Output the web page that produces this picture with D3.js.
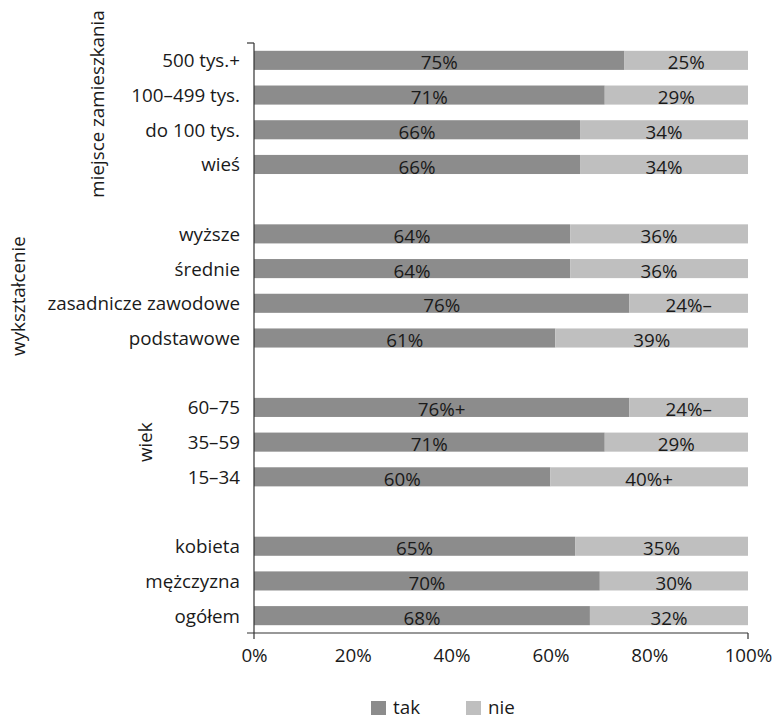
<!DOCTYPE html>
<html>
<head>
<meta charset="utf-8">
<script src="https://cdn.jsdelivr.net/npm/d3@7"></script>
<style>
  body { margin: 0; background: #fff; }
  svg { font-family: "Open Sans", sans-serif; }
</style>
</head>
<body>
<div id="chart"></div>
<script>
// categories, top to bottom
const categories = ["500 tys.+", "100–499 tys.", "do 100 tys.", "wieś",
  "wyższe", "średnie", "zasadnicze zawodowe", "podstawowe",
  "60–75", "35–59", "15–34",
  "kobieta", "mężczyzna", "ogółem"];
const groupNames = ["miejsce zamieszkania", "wykształcenie", "wiek", ""];
const groupSizes = [4, 4, 3, 3];
const takValues = [75, 71, 66, 66, 64, 64, 76, 61, 76, 71, 60, 65, 70, 68];
const nieValues = [25, 29, 34, 34, 36, 36, 24, 39, 24, 29, 40, 35, 30, 32];
const takLabels = ["75%", "71%", "66%", "66%", "64%", "64%", "76%", "61%", "76%+", "71%", "60%", "65%", "70%", "68%"];
const nieLabels = ["25%", "29%", "34%", "34%", "36%", "36%", "24%–", "39%", "24%–", "29%", "40%+", "35%", "30%", "32%"];
const xTicks = [0, 20, 40, 60, 80, 100];
const seriesNames = ["tak", "nie"];
const colors = ["#8c8c8c", "#bfbfbf"];

const width = 772, height = 720;
const margin = { left: 254, right: 24, top: 43, bottom: 87 };
const fs = 18.8;

const svg = d3.select('#chart').append('svg')
    .attr('width', width)
    .attr('height', height);

// slot keys: categories plus blank separators between groups
const slots = [];
let k = 0;
groupSizes.forEach((n, g) => {
    for (let j = 0; j < n; j++) { slots.push(categories[k]); k++; }
    if (g < groupSizes.length - 1) slots.push('__gap' + g);
});

const x = d3.scaleLinear().domain([0, 100]).range([margin.left, width - margin.right]);
const y = d3.scaleBand().domain(slots).range([margin.top, height - margin.bottom]).paddingInner(0.45).paddingOuter(0.225);

const rows = categories.map((c, i) => ({ c, tak: takValues[i], nie: nieValues[i], tl: takLabels[i], nl: nieLabels[i] }));

const gBars = svg.append('g');
rows.forEach(r => {
    const yy = y(r.c), h = y.bandwidth();
    gBars.append('rect').attr('x', x(0)).attr('y', yy).attr('width', x(r.tak) - x(0)).attr('height', h).attr('fill', colors[0]);
    gBars.append('rect').attr('x', x(r.tak)).attr('y', yy).attr('width', x(r.tak + r.nie) - x(r.tak)).attr('height', h).attr('fill', colors[1]);
    gBars.append('text').attr('x', (x(0) + x(r.tak)) / 2).attr('y', yy + h - 0.5)
        .attr('text-anchor', 'middle').attr('font-size', fs).attr('fill', '#1a1a1a').text(r.tl);
    gBars.append('text').attr('x', (x(r.tak) + x(r.tak + r.nie)) / 2).attr('y', yy + h - 0.5)
        .attr('text-anchor', 'middle').attr('font-size', fs).attr('fill', '#1a1a1a').text(r.nl);
});

// category labels
svg.append('g').selectAll('text').data(categories).join('text')
    .attr('x', margin.left - 14)
    .attr('y', d => y(d) + y.bandwidth() / 2 + 7)
    .attr('text-anchor', 'end')
    .attr('font-size', fs)
    .attr('fill', '#1a1a1a')
    .text(d => d);

// group labels (rotated)
const groupPos = [97, 18, 145];
let start = 0;
groupSizes.forEach((n, g) => {
    const first = categories[start], last = categories[start + n - 1];
    start += n;
    if (!groupNames[g]) return;
    let cy = (y(first) + y(last) + y.bandwidth()) / 2;
    if (g === 0) cy = 104;
    if (g === 1) cy = 296;
    svg.append('text')
        .attr('transform', `translate(${groupPos[g] + 7},${cy}) rotate(-90)`)
        .attr('text-anchor', 'middle')
        .attr('font-size', fs)
        .attr('fill', '#1a1a1a')
        .text(groupNames[g]);
});

// y axis line with end ticks
const yTop = margin.top, yBot = height - margin.bottom;
const axisG = svg.append('g').attr('stroke', '#333').attr('stroke-width', 1.2);
axisG.append('line').attr('x1', x(0)).attr('x2', x(0)).attr('y1', yTop).attr('y2', yBot + 6);
axisG.append('line').attr('x1', x(0) - 7).attr('x2', x(0)).attr('y1', yTop).attr('y2', yTop);

// x axis
const xAxis = svg.append('g')
    .attr('transform', `translate(0,${yBot})`)
    .call(d3.axisBottom(x).tickValues(xTicks).tickSize(0).tickPadding(15.5).tickFormat(d => d + '%'));
xAxis.select('.domain').remove();
xAxis.selectAll('text').attr('font-size', fs).attr('font-family', '"Open Sans", sans-serif').attr('fill', '#1a1a1a');
axisG.append('line').attr('x1', x(0) - 7).attr('x2', x(100)).attr('y1', yBot).attr('y2', yBot);
axisG.append('line').attr('x1', x(100)).attr('x2', x(100)).attr('y1', yBot).attr('y2', yBot + 6);

// legend
const legend = svg.append('g');
const legX = [371, 466];
seriesNames.forEach((s, i) => {
    legend.append('rect').attr('x', legX[i]).attr('y', 701).attr('width', 15).attr('height', 14).attr('fill', colors[i]);
    legend.append('text').attr('x', legX[i] + 22).attr('y', 714).attr('font-size', fs).attr('fill', '#1a1a1a').text(s);
});
</script>
</body>
</html>
